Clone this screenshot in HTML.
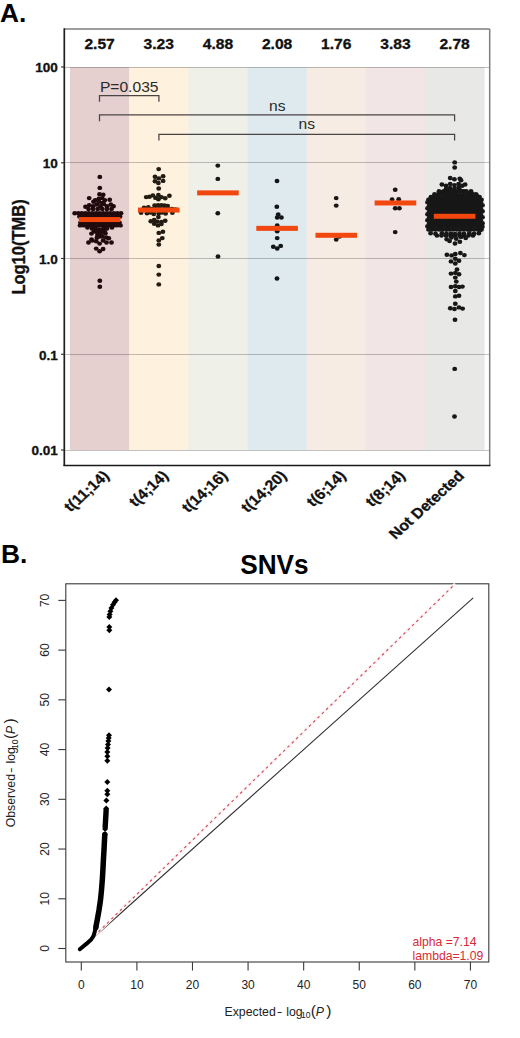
<!DOCTYPE html>
<html><head><meta charset="utf-8"><style>
html,body{margin:0;padding:0;background:#fff;}
body{width:520px;height:1038px;overflow:hidden;font-family:"Liberation Sans",sans-serif;}
svg{display:block;}
</style></head><body>
<svg width="520" height="1038" viewBox="0 0 520 1038">
<rect width="520" height="1038" fill="#fff"/>
<rect x="70.00" y="67.00" width="59.57" height="383.00" fill="#e5d0cf"/>
<rect x="129.17" y="67.00" width="59.57" height="383.00" fill="#fef1de"/>
<rect x="188.34" y="67.00" width="59.57" height="383.00" fill="#eff0e8"/>
<rect x="247.51" y="67.00" width="59.57" height="383.00" fill="#deeaee"/>
<rect x="306.69" y="67.00" width="59.57" height="383.00" fill="#f6ece3"/>
<rect x="365.86" y="67.00" width="59.57" height="383.00" fill="#f2e5e6"/>
<rect x="425.03" y="67.00" width="59.57" height="383.00" fill="#e8e8e7"/>
<line x1="64.3" x2="489.7" y1="67.50" y2="67.50" stroke="rgba(0,0,0,0.24)" stroke-width="1.0"/>
<line x1="64.3" x2="489.7" y1="162.50" y2="162.50" stroke="rgba(0,0,0,0.24)" stroke-width="1.0"/>
<line x1="64.3" x2="489.7" y1="258.50" y2="258.50" stroke="rgba(0,0,0,0.24)" stroke-width="1.0"/>
<line x1="64.3" x2="489.7" y1="354.50" y2="354.50" stroke="rgba(0,0,0,0.24)" stroke-width="1.0"/>
<line x1="64.3" x2="489.7" y1="450.50" y2="450.50" stroke="rgba(0,0,0,0.24)" stroke-width="1.0"/>
<line x1="64.3" x2="489.7" y1="29.0" y2="29.0" stroke="#7e7e7e" stroke-width="1.5"/>
<line x1="489.7" x2="489.7" y1="29.0" y2="465.2" stroke="#7e7e7e" stroke-width="1.5"/>
<line x1="64.3" x2="64.3" y1="28.3" y2="466.0" stroke="#1e1e1e" stroke-width="1.7"/>
<line x1="63.5" x2="490.5" y1="465.5" y2="465.5" stroke="#1a1a1a" stroke-width="1.45"/>
<line x1="61.099999999999994" x2="64.3" y1="67.00" y2="67.00" stroke="#333" stroke-width="1.2"/>
<line x1="61.099999999999994" x2="64.3" y1="162.75" y2="162.75" stroke="#333" stroke-width="1.2"/>
<line x1="61.099999999999994" x2="64.3" y1="258.50" y2="258.50" stroke="#333" stroke-width="1.2"/>
<line x1="61.099999999999994" x2="64.3" y1="354.25" y2="354.25" stroke="#333" stroke-width="1.2"/>
<line x1="61.099999999999994" x2="64.3" y1="450.00" y2="450.00" stroke="#333" stroke-width="1.2"/>
<text transform="translate(57.8,72.30) scale(1.1,1)" text-anchor="end" font-family="Liberation Sans, sans-serif" font-weight="bold" font-size="12.3" fill="#111" stroke="#111" stroke-width="0.3">100</text>
<text transform="translate(57.8,168.05) scale(1.1,1)" text-anchor="end" font-family="Liberation Sans, sans-serif" font-weight="bold" font-size="12.3" fill="#111" stroke="#111" stroke-width="0.3">10</text>
<text transform="translate(57.8,263.80) scale(1.1,1)" text-anchor="end" font-family="Liberation Sans, sans-serif" font-weight="bold" font-size="12.3" fill="#111" stroke="#111" stroke-width="0.3">1.0</text>
<text transform="translate(57.8,359.55) scale(1.1,1)" text-anchor="end" font-family="Liberation Sans, sans-serif" font-weight="bold" font-size="12.3" fill="#111" stroke="#111" stroke-width="0.3">0.1</text>
<text transform="translate(57.8,455.30) scale(1.1,1)" text-anchor="end" font-family="Liberation Sans, sans-serif" font-weight="bold" font-size="12.3" fill="#111" stroke="#111" stroke-width="0.3">0.01</text>
<text transform="translate(25.0,247.0) scale(1.1,1) rotate(-90)" text-anchor="middle" font-family="Liberation Sans, sans-serif" font-weight="bold" font-size="16.5" fill="#111" stroke="#111" stroke-width="0.3">Log10(TMB)</text>
<text transform="translate(99.59,48.8) scale(1.1,1)" text-anchor="middle" font-family="Liberation Sans, sans-serif" font-weight="bold" font-size="14.2" fill="#111" stroke="#111" stroke-width="0.3">2.57</text>
<text transform="translate(158.76,48.8) scale(1.1,1)" text-anchor="middle" font-family="Liberation Sans, sans-serif" font-weight="bold" font-size="14.2" fill="#111" stroke="#111" stroke-width="0.3">3.23</text>
<text transform="translate(217.93,48.8) scale(1.1,1)" text-anchor="middle" font-family="Liberation Sans, sans-serif" font-weight="bold" font-size="14.2" fill="#111" stroke="#111" stroke-width="0.3">4.88</text>
<text transform="translate(277.10,48.8) scale(1.1,1)" text-anchor="middle" font-family="Liberation Sans, sans-serif" font-weight="bold" font-size="14.2" fill="#111" stroke="#111" stroke-width="0.3">2.08</text>
<text transform="translate(336.27,48.8) scale(1.1,1)" text-anchor="middle" font-family="Liberation Sans, sans-serif" font-weight="bold" font-size="14.2" fill="#111" stroke="#111" stroke-width="0.3">1.76</text>
<text transform="translate(395.44,48.8) scale(1.1,1)" text-anchor="middle" font-family="Liberation Sans, sans-serif" font-weight="bold" font-size="14.2" fill="#111" stroke="#111" stroke-width="0.3">3.83</text>
<text transform="translate(454.61,48.8) scale(1.1,1)" text-anchor="middle" font-family="Liberation Sans, sans-serif" font-weight="bold" font-size="14.2" fill="#111" stroke="#111" stroke-width="0.3">2.78</text>
<text transform="translate(110.09,476.7) scale(1.1,1) rotate(-45)" text-anchor="end" font-family="Liberation Sans, sans-serif" font-weight="bold" font-size="14.5" fill="#111" stroke="#111" stroke-width="0.3">t(11;14)</text>
<text transform="translate(169.26,476.7) scale(1.1,1) rotate(-45)" text-anchor="end" font-family="Liberation Sans, sans-serif" font-weight="bold" font-size="14.5" fill="#111" stroke="#111" stroke-width="0.3">t(4;14)</text>
<text transform="translate(228.43,476.7) scale(1.1,1) rotate(-45)" text-anchor="end" font-family="Liberation Sans, sans-serif" font-weight="bold" font-size="14.5" fill="#111" stroke="#111" stroke-width="0.3">t(14;16)</text>
<text transform="translate(287.60,476.7) scale(1.1,1) rotate(-45)" text-anchor="end" font-family="Liberation Sans, sans-serif" font-weight="bold" font-size="14.5" fill="#111" stroke="#111" stroke-width="0.3">t(14;20)</text>
<text transform="translate(346.77,476.7) scale(1.1,1) rotate(-45)" text-anchor="end" font-family="Liberation Sans, sans-serif" font-weight="bold" font-size="14.5" fill="#111" stroke="#111" stroke-width="0.3">t(6;14)</text>
<text transform="translate(405.94,476.7) scale(1.1,1) rotate(-45)" text-anchor="end" font-family="Liberation Sans, sans-serif" font-weight="bold" font-size="14.5" fill="#111" stroke="#111" stroke-width="0.3">t(8;14)</text>
<text transform="translate(465.11,476.7) scale(1.1,1) rotate(-45)" text-anchor="end" font-family="Liberation Sans, sans-serif" font-weight="bold" font-size="14.5" fill="#111" stroke="#111" stroke-width="0.3">Not Detected</text>
<path d="M99.5,101.8 L99.5,95.5 L158.9,95.5 L158.9,101.8" fill="none" stroke="#4a4444" stroke-width="1.25"/>
<path d="M99.5,121.3 L99.5,114.8 L454.6,114.8 L454.6,121.3" fill="none" stroke="#4a4444" stroke-width="1.25"/>
<path d="M158.9,140.4 L158.9,134.4 L454.6,134.4 L454.6,140.4" fill="none" stroke="#4a4444" stroke-width="1.25"/>
<text transform="translate(129.2,91.6) scale(1.1,1)" text-anchor="middle" font-family="Liberation Sans, sans-serif" font-size="14.2" fill="#2a2a2a">P=0.035</text>
<text transform="translate(277.2,110.6) scale(1.1,1)" text-anchor="middle" font-family="Liberation Sans, sans-serif" font-size="14.2" fill="#2a2a2a">ns</text>
<text transform="translate(306.7,129.4) scale(1.1,1)" text-anchor="middle" font-family="Liberation Sans, sans-serif" font-size="14.2" fill="#2a2a2a">ns</text>
<ellipse cx="99.8" cy="176.9" rx="2.42" ry="2.2" fill="#210a0e"/>
<ellipse cx="99.8" cy="187.9" rx="2.42" ry="2.2" fill="#210a0e"/>
<ellipse cx="99.5" cy="194.3" rx="2.42" ry="2.2" fill="#210a0e"/>
<ellipse cx="103.2" cy="194.8" rx="2.42" ry="2.2" fill="#210a0e"/>
<ellipse cx="89.2" cy="198.1" rx="2.42" ry="2.2" fill="#210a0e"/>
<ellipse cx="95.2" cy="200.2" rx="2.42" ry="2.2" fill="#210a0e"/>
<ellipse cx="98.9" cy="198.6" rx="2.42" ry="2.2" fill="#210a0e"/>
<ellipse cx="102.2" cy="198.1" rx="2.42" ry="2.2" fill="#210a0e"/>
<ellipse cx="104.8" cy="200.2" rx="2.42" ry="2.2" fill="#210a0e"/>
<ellipse cx="109.7" cy="199.7" rx="2.42" ry="2.2" fill="#210a0e"/>
<ellipse cx="93.5" cy="201.8" rx="2.42" ry="2.2" fill="#210a0e"/>
<ellipse cx="98.9" cy="201.8" rx="2.42" ry="2.2" fill="#210a0e"/>
<ellipse cx="102.2" cy="202.9" rx="2.42" ry="2.2" fill="#210a0e"/>
<ellipse cx="85.5" cy="206.7" rx="2.42" ry="2.2" fill="#210a0e"/>
<ellipse cx="89.2" cy="205.1" rx="2.42" ry="2.2" fill="#210a0e"/>
<ellipse cx="93.0" cy="206.2" rx="2.42" ry="2.2" fill="#210a0e"/>
<ellipse cx="96.8" cy="204.5" rx="2.42" ry="2.2" fill="#210a0e"/>
<ellipse cx="100.5" cy="206.2" rx="2.42" ry="2.2" fill="#210a0e"/>
<ellipse cx="103.8" cy="204.0" rx="2.42" ry="2.2" fill="#210a0e"/>
<ellipse cx="107.0" cy="206.2" rx="2.42" ry="2.2" fill="#210a0e"/>
<ellipse cx="110.8" cy="204.5" rx="2.42" ry="2.2" fill="#210a0e"/>
<ellipse cx="113.5" cy="206.2" rx="2.42" ry="2.2" fill="#210a0e"/>
<ellipse cx="88.5" cy="209.0" rx="2.42" ry="2.2" fill="#210a0e"/>
<ellipse cx="93.1" cy="209.0" rx="2.42" ry="2.2" fill="#210a0e"/>
<ellipse cx="97.7" cy="209.0" rx="2.42" ry="2.2" fill="#210a0e"/>
<ellipse cx="102.3" cy="209.0" rx="2.42" ry="2.2" fill="#210a0e"/>
<ellipse cx="106.9" cy="209.0" rx="2.42" ry="2.2" fill="#210a0e"/>
<ellipse cx="111.5" cy="209.0" rx="2.42" ry="2.2" fill="#210a0e"/>
<ellipse cx="74.7" cy="213.2" rx="2.42" ry="2.2" fill="#210a0e"/>
<ellipse cx="78.3" cy="213.2" rx="2.42" ry="2.2" fill="#210a0e"/>
<ellipse cx="81.8" cy="213.2" rx="2.42" ry="2.2" fill="#210a0e"/>
<ellipse cx="85.4" cy="213.2" rx="2.42" ry="2.2" fill="#210a0e"/>
<ellipse cx="88.9" cy="213.2" rx="2.42" ry="2.2" fill="#210a0e"/>
<ellipse cx="92.5" cy="213.2" rx="2.42" ry="2.2" fill="#210a0e"/>
<ellipse cx="96.1" cy="213.2" rx="2.42" ry="2.2" fill="#210a0e"/>
<ellipse cx="99.6" cy="213.2" rx="2.42" ry="2.2" fill="#210a0e"/>
<ellipse cx="103.2" cy="213.2" rx="2.42" ry="2.2" fill="#210a0e"/>
<ellipse cx="106.8" cy="213.2" rx="2.42" ry="2.2" fill="#210a0e"/>
<ellipse cx="110.3" cy="213.2" rx="2.42" ry="2.2" fill="#210a0e"/>
<ellipse cx="113.9" cy="213.2" rx="2.42" ry="2.2" fill="#210a0e"/>
<ellipse cx="117.4" cy="213.2" rx="2.42" ry="2.2" fill="#210a0e"/>
<ellipse cx="121.0" cy="213.2" rx="2.42" ry="2.2" fill="#210a0e"/>
<ellipse cx="79.5" cy="216.6" rx="2.42" ry="2.2" fill="#210a0e"/>
<ellipse cx="83.2" cy="216.6" rx="2.42" ry="2.2" fill="#210a0e"/>
<ellipse cx="86.9" cy="216.6" rx="2.42" ry="2.2" fill="#210a0e"/>
<ellipse cx="90.5" cy="216.6" rx="2.42" ry="2.2" fill="#210a0e"/>
<ellipse cx="94.2" cy="216.6" rx="2.42" ry="2.2" fill="#210a0e"/>
<ellipse cx="97.9" cy="216.6" rx="2.42" ry="2.2" fill="#210a0e"/>
<ellipse cx="101.6" cy="216.6" rx="2.42" ry="2.2" fill="#210a0e"/>
<ellipse cx="105.3" cy="216.6" rx="2.42" ry="2.2" fill="#210a0e"/>
<ellipse cx="109.0" cy="216.6" rx="2.42" ry="2.2" fill="#210a0e"/>
<ellipse cx="112.6" cy="216.6" rx="2.42" ry="2.2" fill="#210a0e"/>
<ellipse cx="116.3" cy="216.6" rx="2.42" ry="2.2" fill="#210a0e"/>
<ellipse cx="120.0" cy="216.6" rx="2.42" ry="2.2" fill="#210a0e"/>
<ellipse cx="80.5" cy="222.6" rx="2.42" ry="2.2" fill="#210a0e"/>
<ellipse cx="84.0" cy="222.6" rx="2.42" ry="2.2" fill="#210a0e"/>
<ellipse cx="87.6" cy="222.6" rx="2.42" ry="2.2" fill="#210a0e"/>
<ellipse cx="91.1" cy="222.6" rx="2.42" ry="2.2" fill="#210a0e"/>
<ellipse cx="94.7" cy="222.6" rx="2.42" ry="2.2" fill="#210a0e"/>
<ellipse cx="98.2" cy="222.6" rx="2.42" ry="2.2" fill="#210a0e"/>
<ellipse cx="101.8" cy="222.6" rx="2.42" ry="2.2" fill="#210a0e"/>
<ellipse cx="105.3" cy="222.6" rx="2.42" ry="2.2" fill="#210a0e"/>
<ellipse cx="108.9" cy="222.6" rx="2.42" ry="2.2" fill="#210a0e"/>
<ellipse cx="112.4" cy="222.6" rx="2.42" ry="2.2" fill="#210a0e"/>
<ellipse cx="116.0" cy="222.6" rx="2.42" ry="2.2" fill="#210a0e"/>
<ellipse cx="119.5" cy="222.6" rx="2.42" ry="2.2" fill="#210a0e"/>
<ellipse cx="80.0" cy="225.4" rx="2.42" ry="2.2" fill="#210a0e"/>
<ellipse cx="83.7" cy="225.4" rx="2.42" ry="2.2" fill="#210a0e"/>
<ellipse cx="87.4" cy="225.4" rx="2.42" ry="2.2" fill="#210a0e"/>
<ellipse cx="91.0" cy="225.4" rx="2.42" ry="2.2" fill="#210a0e"/>
<ellipse cx="94.7" cy="225.4" rx="2.42" ry="2.2" fill="#210a0e"/>
<ellipse cx="98.4" cy="225.4" rx="2.42" ry="2.2" fill="#210a0e"/>
<ellipse cx="102.1" cy="225.4" rx="2.42" ry="2.2" fill="#210a0e"/>
<ellipse cx="105.8" cy="225.4" rx="2.42" ry="2.2" fill="#210a0e"/>
<ellipse cx="109.5" cy="225.4" rx="2.42" ry="2.2" fill="#210a0e"/>
<ellipse cx="113.1" cy="225.4" rx="2.42" ry="2.2" fill="#210a0e"/>
<ellipse cx="116.8" cy="225.4" rx="2.42" ry="2.2" fill="#210a0e"/>
<ellipse cx="120.5" cy="225.4" rx="2.42" ry="2.2" fill="#210a0e"/>
<ellipse cx="87.5" cy="227.6" rx="2.42" ry="2.2" fill="#210a0e"/>
<ellipse cx="112.0" cy="227.6" rx="2.42" ry="2.2" fill="#210a0e"/>
<ellipse cx="92.0" cy="228.6" rx="2.42" ry="2.2" fill="#210a0e"/>
<ellipse cx="95.6" cy="228.2" rx="2.42" ry="2.2" fill="#210a0e"/>
<ellipse cx="103.4" cy="228.2" rx="2.42" ry="2.2" fill="#210a0e"/>
<ellipse cx="107.0" cy="228.6" rx="2.42" ry="2.2" fill="#210a0e"/>
<ellipse cx="94.0" cy="231.2" rx="2.42" ry="2.2" fill="#210a0e"/>
<ellipse cx="99.2" cy="232.4" rx="2.42" ry="2.2" fill="#210a0e"/>
<ellipse cx="104.5" cy="231.6" rx="2.42" ry="2.2" fill="#210a0e"/>
<ellipse cx="101.0" cy="235.0" rx="2.42" ry="2.2" fill="#210a0e"/>
<ellipse cx="97.5" cy="235.0" rx="2.42" ry="2.2" fill="#210a0e"/>
<ellipse cx="99.2" cy="229.4" rx="2.42" ry="2.2" fill="#210a0e"/>
<ellipse cx="96.2" cy="231.7" rx="2.42" ry="2.2" fill="#210a0e"/>
<ellipse cx="102.3" cy="231.3" rx="2.42" ry="2.2" fill="#210a0e"/>
<ellipse cx="91.5" cy="233.6" rx="2.42" ry="2.2" fill="#210a0e"/>
<ellipse cx="105.4" cy="233.2" rx="2.42" ry="2.2" fill="#210a0e"/>
<ellipse cx="99.5" cy="233.5" rx="2.42" ry="2.2" fill="#210a0e"/>
<ellipse cx="99.5" cy="236.5" rx="2.42" ry="2.2" fill="#210a0e"/>
<ellipse cx="96.9" cy="237.8" rx="2.42" ry="2.2" fill="#210a0e"/>
<ellipse cx="102.5" cy="236.5" rx="2.42" ry="2.2" fill="#210a0e"/>
<ellipse cx="106.2" cy="237.5" rx="2.42" ry="2.2" fill="#210a0e"/>
<ellipse cx="108.8" cy="238.2" rx="2.42" ry="2.2" fill="#210a0e"/>
<ellipse cx="91.5" cy="239.4" rx="2.42" ry="2.2" fill="#210a0e"/>
<ellipse cx="88.5" cy="242.5" rx="2.42" ry="2.2" fill="#210a0e"/>
<ellipse cx="92.3" cy="240.5" rx="2.42" ry="2.2" fill="#210a0e"/>
<ellipse cx="96.2" cy="241.3" rx="2.42" ry="2.2" fill="#210a0e"/>
<ellipse cx="99.6" cy="243.6" rx="2.42" ry="2.2" fill="#210a0e"/>
<ellipse cx="103.1" cy="240.5" rx="2.42" ry="2.2" fill="#210a0e"/>
<ellipse cx="106.5" cy="242.5" rx="2.42" ry="2.2" fill="#210a0e"/>
<ellipse cx="111.5" cy="242.5" rx="2.42" ry="2.2" fill="#210a0e"/>
<ellipse cx="96.2" cy="248.6" rx="2.42" ry="2.2" fill="#210a0e"/>
<ellipse cx="103.1" cy="249.0" rx="2.42" ry="2.2" fill="#210a0e"/>
<ellipse cx="99.6" cy="251.3" rx="2.42" ry="2.2" fill="#210a0e"/>
<ellipse cx="99.8" cy="280.8" rx="2.42" ry="2.2" fill="#210a0e"/>
<ellipse cx="99.8" cy="286.8" rx="2.42" ry="2.2" fill="#210a0e"/>
<ellipse cx="158.7" cy="169.1" rx="2.42" ry="2.2" fill="#231c12"/>
<ellipse cx="155.0" cy="176.7" rx="2.42" ry="2.2" fill="#231c12"/>
<ellipse cx="163.1" cy="176.3" rx="2.42" ry="2.2" fill="#231c12"/>
<ellipse cx="158.8" cy="178.4" rx="2.42" ry="2.2" fill="#231c12"/>
<ellipse cx="155.0" cy="181.3" rx="2.42" ry="2.2" fill="#231c12"/>
<ellipse cx="163.1" cy="180.9" rx="2.42" ry="2.2" fill="#231c12"/>
<ellipse cx="158.4" cy="183.0" rx="2.42" ry="2.2" fill="#231c12"/>
<ellipse cx="158.7" cy="188.5" rx="2.42" ry="2.2" fill="#231c12"/>
<ellipse cx="146.2" cy="197.1" rx="2.42" ry="2.2" fill="#231c12"/>
<ellipse cx="149.5" cy="196.7" rx="2.42" ry="2.2" fill="#231c12"/>
<ellipse cx="152.9" cy="195.4" rx="2.42" ry="2.2" fill="#231c12"/>
<ellipse cx="155.5" cy="197.9" rx="2.42" ry="2.2" fill="#231c12"/>
<ellipse cx="158.4" cy="195.0" rx="2.42" ry="2.2" fill="#231c12"/>
<ellipse cx="158.4" cy="199.2" rx="2.42" ry="2.2" fill="#231c12"/>
<ellipse cx="161.4" cy="197.1" rx="2.42" ry="2.2" fill="#231c12"/>
<ellipse cx="165.2" cy="198.3" rx="2.42" ry="2.2" fill="#231c12"/>
<ellipse cx="169.4" cy="195.8" rx="2.42" ry="2.2" fill="#231c12"/>
<ellipse cx="154.6" cy="205.5" rx="2.42" ry="2.2" fill="#231c12"/>
<ellipse cx="158.0" cy="205.2" rx="2.42" ry="2.2" fill="#231c12"/>
<ellipse cx="161.4" cy="205.1" rx="2.42" ry="2.2" fill="#231c12"/>
<ellipse cx="164.6" cy="205.5" rx="2.42" ry="2.2" fill="#231c12"/>
<ellipse cx="167.7" cy="206.0" rx="2.42" ry="2.2" fill="#231c12"/>
<ellipse cx="144.0" cy="207.7" rx="2.42" ry="2.2" fill="#231c12"/>
<ellipse cx="148.3" cy="207.2" rx="2.42" ry="2.2" fill="#231c12"/>
<ellipse cx="152.0" cy="209.0" rx="2.42" ry="2.2" fill="#231c12"/>
<ellipse cx="156.0" cy="209.0" rx="2.42" ry="2.2" fill="#231c12"/>
<ellipse cx="160.0" cy="209.0" rx="2.42" ry="2.2" fill="#231c12"/>
<ellipse cx="164.0" cy="209.0" rx="2.42" ry="2.2" fill="#231c12"/>
<ellipse cx="168.0" cy="209.0" rx="2.42" ry="2.2" fill="#231c12"/>
<ellipse cx="172.0" cy="209.0" rx="2.42" ry="2.2" fill="#231c12"/>
<ellipse cx="175.5" cy="209.5" rx="2.42" ry="2.2" fill="#231c12"/>
<ellipse cx="141.1" cy="212.7" rx="2.42" ry="2.2" fill="#231c12"/>
<ellipse cx="147.0" cy="213.2" rx="2.42" ry="2.2" fill="#231c12"/>
<ellipse cx="153.8" cy="214.0" rx="2.42" ry="2.2" fill="#231c12"/>
<ellipse cx="158.8" cy="213.2" rx="2.42" ry="2.2" fill="#231c12"/>
<ellipse cx="165.6" cy="213.6" rx="2.42" ry="2.2" fill="#231c12"/>
<ellipse cx="172.4" cy="212.7" rx="2.42" ry="2.2" fill="#231c12"/>
<ellipse cx="150.5" cy="212.5" rx="2.42" ry="2.2" fill="#231c12"/>
<ellipse cx="162.0" cy="212.5" rx="2.42" ry="2.2" fill="#231c12"/>
<ellipse cx="158.4" cy="217.0" rx="2.42" ry="2.2" fill="#231c12"/>
<ellipse cx="150.8" cy="221.2" rx="2.42" ry="2.2" fill="#231c12"/>
<ellipse cx="154.2" cy="219.9" rx="2.42" ry="2.2" fill="#231c12"/>
<ellipse cx="157.2" cy="221.6" rx="2.42" ry="2.2" fill="#231c12"/>
<ellipse cx="161.4" cy="222.0" rx="2.42" ry="2.2" fill="#231c12"/>
<ellipse cx="165.2" cy="220.8" rx="2.42" ry="2.2" fill="#231c12"/>
<ellipse cx="154.2" cy="223.7" rx="2.42" ry="2.2" fill="#231c12"/>
<ellipse cx="158.0" cy="225.4" rx="2.42" ry="2.2" fill="#231c12"/>
<ellipse cx="161.4" cy="224.1" rx="2.42" ry="2.2" fill="#231c12"/>
<ellipse cx="158.8" cy="232.9" rx="2.42" ry="2.2" fill="#231c12"/>
<ellipse cx="162.9" cy="231.7" rx="2.42" ry="2.2" fill="#231c12"/>
<ellipse cx="158.8" cy="240.4" rx="2.42" ry="2.2" fill="#231c12"/>
<ellipse cx="162.3" cy="238.1" rx="2.42" ry="2.2" fill="#231c12"/>
<ellipse cx="158.8" cy="244.6" rx="2.42" ry="2.2" fill="#231c12"/>
<ellipse cx="158.8" cy="266.0" rx="2.42" ry="2.2" fill="#231c12"/>
<ellipse cx="158.8" cy="274.6" rx="2.42" ry="2.2" fill="#231c12"/>
<ellipse cx="158.8" cy="284.4" rx="2.42" ry="2.2" fill="#231c12"/>
<ellipse cx="217.8" cy="165.6" rx="2.42" ry="2.2" fill="#171717"/>
<ellipse cx="217.8" cy="178.9" rx="2.42" ry="2.2" fill="#171717"/>
<ellipse cx="217.8" cy="213.3" rx="2.42" ry="2.2" fill="#171717"/>
<ellipse cx="218.0" cy="256.5" rx="2.42" ry="2.2" fill="#171717"/>
<ellipse cx="277.0" cy="181.0" rx="2.42" ry="2.2" fill="#121516"/>
<ellipse cx="276.8" cy="206.7" rx="2.42" ry="2.2" fill="#121516"/>
<ellipse cx="278.2" cy="214.4" rx="2.42" ry="2.2" fill="#121516"/>
<ellipse cx="277.2" cy="217.5" rx="2.42" ry="2.2" fill="#121516"/>
<ellipse cx="281.4" cy="217.5" rx="2.42" ry="2.2" fill="#121516"/>
<ellipse cx="277.2" cy="225.4" rx="2.42" ry="2.2" fill="#121516"/>
<ellipse cx="277.2" cy="231.2" rx="2.42" ry="2.2" fill="#121516"/>
<ellipse cx="277.2" cy="238.1" rx="2.42" ry="2.2" fill="#121516"/>
<ellipse cx="273.3" cy="246.7" rx="2.42" ry="2.2" fill="#121516"/>
<ellipse cx="277.2" cy="248.5" rx="2.42" ry="2.2" fill="#121516"/>
<ellipse cx="280.7" cy="245.9" rx="2.42" ry="2.2" fill="#121516"/>
<ellipse cx="277.0" cy="278.5" rx="2.42" ry="2.2" fill="#121516"/>
<ellipse cx="336.2" cy="198.1" rx="2.42" ry="2.2" fill="#1a1616"/>
<ellipse cx="336.2" cy="205.6" rx="2.42" ry="2.2" fill="#1a1616"/>
<ellipse cx="339.5" cy="236.5" rx="2.42" ry="2.2" fill="#1a1616"/>
<ellipse cx="336.2" cy="239.6" rx="2.42" ry="2.2" fill="#1a1616"/>
<ellipse cx="395.2" cy="189.8" rx="2.42" ry="2.2" fill="#1a1416"/>
<ellipse cx="392.1" cy="199.5" rx="2.42" ry="2.2" fill="#1a1416"/>
<ellipse cx="398.7" cy="199.2" rx="2.42" ry="2.2" fill="#1a1416"/>
<ellipse cx="395.2" cy="208.2" rx="2.42" ry="2.2" fill="#1a1416"/>
<ellipse cx="399.4" cy="208.2" rx="2.42" ry="2.2" fill="#1a1416"/>
<ellipse cx="395.2" cy="232.1" rx="2.42" ry="2.2" fill="#1a1416"/>
<ellipse cx="454.7" cy="162.4" rx="2.42" ry="2.2" fill="#171717"/>
<ellipse cx="454.7" cy="167.5" rx="2.42" ry="2.2" fill="#171717"/>
<ellipse cx="450.2" cy="178.0" rx="2.42" ry="2.2" fill="#171717"/>
<ellipse cx="454.4" cy="179.2" rx="2.42" ry="2.2" fill="#171717"/>
<ellipse cx="459.8" cy="178.6" rx="2.42" ry="2.2" fill="#171717"/>
<ellipse cx="461.0" cy="180.3" rx="2.42" ry="2.2" fill="#171717"/>
<ellipse cx="441.9" cy="184.5" rx="2.42" ry="2.2" fill="#171717"/>
<ellipse cx="446.0" cy="185.7" rx="2.42" ry="2.2" fill="#171717"/>
<ellipse cx="450.2" cy="183.9" rx="2.42" ry="2.2" fill="#171717"/>
<ellipse cx="454.4" cy="185.1" rx="2.42" ry="2.2" fill="#171717"/>
<ellipse cx="458.6" cy="183.9" rx="2.42" ry="2.2" fill="#171717"/>
<ellipse cx="462.2" cy="185.7" rx="2.42" ry="2.2" fill="#171717"/>
<ellipse cx="465.1" cy="184.5" rx="2.42" ry="2.2" fill="#171717"/>
<ellipse cx="454.4" cy="188.7" rx="2.42" ry="2.2" fill="#171717"/>
<ellipse cx="458.6" cy="187.5" rx="2.42" ry="2.2" fill="#171717"/>
<ellipse cx="446.0" cy="189.0" rx="2.42" ry="2.2" fill="#171717"/>
<ellipse cx="450.0" cy="188.0" rx="2.42" ry="2.2" fill="#171717"/>
<ellipse cx="438.3" cy="194.1" rx="2.42" ry="2.2" fill="#171717"/>
<ellipse cx="441.9" cy="192.3" rx="2.42" ry="2.2" fill="#171717"/>
<ellipse cx="446.0" cy="193.0" rx="2.42" ry="2.2" fill="#171717"/>
<ellipse cx="450.2" cy="191.1" rx="2.42" ry="2.2" fill="#171717"/>
<ellipse cx="454.5" cy="192.5" rx="2.42" ry="2.2" fill="#171717"/>
<ellipse cx="459.8" cy="189.9" rx="2.42" ry="2.2" fill="#171717"/>
<ellipse cx="464.0" cy="191.1" rx="2.42" ry="2.2" fill="#171717"/>
<ellipse cx="468.1" cy="192.9" rx="2.42" ry="2.2" fill="#171717"/>
<ellipse cx="472.0" cy="194.0" rx="2.42" ry="2.2" fill="#171717"/>
<ellipse cx="474.1" cy="194.7" rx="2.42" ry="2.2" fill="#171717"/>
<ellipse cx="476.5" cy="195.3" rx="2.42" ry="2.2" fill="#171717"/>
<ellipse cx="434.5" cy="196.5" rx="2.42" ry="2.2" fill="#171717"/>
<ellipse cx="431.0" cy="197.5" rx="2.42" ry="2.2" fill="#171717"/>
<ellipse cx="439.0" cy="191.3" rx="2.42" ry="2.2" fill="#171717"/>
<ellipse cx="443.6" cy="191.3" rx="2.42" ry="2.2" fill="#171717"/>
<ellipse cx="448.1" cy="191.3" rx="2.42" ry="2.2" fill="#171717"/>
<ellipse cx="452.7" cy="191.3" rx="2.42" ry="2.2" fill="#171717"/>
<ellipse cx="457.3" cy="191.3" rx="2.42" ry="2.2" fill="#171717"/>
<ellipse cx="461.9" cy="191.3" rx="2.42" ry="2.2" fill="#171717"/>
<ellipse cx="466.4" cy="191.3" rx="2.42" ry="2.2" fill="#171717"/>
<ellipse cx="471.0" cy="191.3" rx="2.42" ry="2.2" fill="#171717"/>
<ellipse cx="434.5" cy="194.2" rx="2.42" ry="2.2" fill="#171717"/>
<ellipse cx="438.6" cy="194.2" rx="2.42" ry="2.2" fill="#171717"/>
<ellipse cx="442.8" cy="194.2" rx="2.42" ry="2.2" fill="#171717"/>
<ellipse cx="446.9" cy="194.2" rx="2.42" ry="2.2" fill="#171717"/>
<ellipse cx="451.1" cy="194.2" rx="2.42" ry="2.2" fill="#171717"/>
<ellipse cx="455.2" cy="194.2" rx="2.42" ry="2.2" fill="#171717"/>
<ellipse cx="459.4" cy="194.2" rx="2.42" ry="2.2" fill="#171717"/>
<ellipse cx="463.6" cy="194.2" rx="2.42" ry="2.2" fill="#171717"/>
<ellipse cx="467.7" cy="194.2" rx="2.42" ry="2.2" fill="#171717"/>
<ellipse cx="471.9" cy="194.2" rx="2.42" ry="2.2" fill="#171717"/>
<ellipse cx="476.0" cy="194.2" rx="2.42" ry="2.2" fill="#171717"/>
<ellipse cx="431.0" cy="197.0" rx="2.42" ry="2.2" fill="#171717"/>
<ellipse cx="434.7" cy="197.0" rx="2.42" ry="2.2" fill="#171717"/>
<ellipse cx="438.5" cy="197.0" rx="2.42" ry="2.2" fill="#171717"/>
<ellipse cx="442.2" cy="197.0" rx="2.42" ry="2.2" fill="#171717"/>
<ellipse cx="445.9" cy="197.0" rx="2.42" ry="2.2" fill="#171717"/>
<ellipse cx="449.7" cy="197.0" rx="2.42" ry="2.2" fill="#171717"/>
<ellipse cx="453.4" cy="197.0" rx="2.42" ry="2.2" fill="#171717"/>
<ellipse cx="457.1" cy="197.0" rx="2.42" ry="2.2" fill="#171717"/>
<ellipse cx="460.8" cy="197.0" rx="2.42" ry="2.2" fill="#171717"/>
<ellipse cx="464.6" cy="197.0" rx="2.42" ry="2.2" fill="#171717"/>
<ellipse cx="468.3" cy="197.0" rx="2.42" ry="2.2" fill="#171717"/>
<ellipse cx="472.0" cy="197.0" rx="2.42" ry="2.2" fill="#171717"/>
<ellipse cx="475.8" cy="197.0" rx="2.42" ry="2.2" fill="#171717"/>
<ellipse cx="479.5" cy="197.0" rx="2.42" ry="2.2" fill="#171717"/>
<ellipse cx="428.5" cy="199.8" rx="2.42" ry="2.2" fill="#171717"/>
<ellipse cx="432.0" cy="199.8" rx="2.42" ry="2.2" fill="#171717"/>
<ellipse cx="435.6" cy="199.8" rx="2.42" ry="2.2" fill="#171717"/>
<ellipse cx="439.1" cy="199.8" rx="2.42" ry="2.2" fill="#171717"/>
<ellipse cx="442.6" cy="199.8" rx="2.42" ry="2.2" fill="#171717"/>
<ellipse cx="446.2" cy="199.8" rx="2.42" ry="2.2" fill="#171717"/>
<ellipse cx="449.7" cy="199.8" rx="2.42" ry="2.2" fill="#171717"/>
<ellipse cx="453.2" cy="199.8" rx="2.42" ry="2.2" fill="#171717"/>
<ellipse cx="456.8" cy="199.8" rx="2.42" ry="2.2" fill="#171717"/>
<ellipse cx="460.3" cy="199.8" rx="2.42" ry="2.2" fill="#171717"/>
<ellipse cx="463.8" cy="199.8" rx="2.42" ry="2.2" fill="#171717"/>
<ellipse cx="467.4" cy="199.8" rx="2.42" ry="2.2" fill="#171717"/>
<ellipse cx="470.9" cy="199.8" rx="2.42" ry="2.2" fill="#171717"/>
<ellipse cx="474.4" cy="199.8" rx="2.42" ry="2.2" fill="#171717"/>
<ellipse cx="478.0" cy="199.8" rx="2.42" ry="2.2" fill="#171717"/>
<ellipse cx="481.5" cy="199.8" rx="2.42" ry="2.2" fill="#171717"/>
<ellipse cx="427.5" cy="202.2" rx="2.42" ry="2.2" fill="#171717"/>
<ellipse cx="431.0" cy="202.2" rx="2.42" ry="2.2" fill="#171717"/>
<ellipse cx="434.6" cy="202.2" rx="2.42" ry="2.2" fill="#171717"/>
<ellipse cx="438.1" cy="202.2" rx="2.42" ry="2.2" fill="#171717"/>
<ellipse cx="441.7" cy="202.2" rx="2.42" ry="2.2" fill="#171717"/>
<ellipse cx="445.2" cy="202.2" rx="2.42" ry="2.2" fill="#171717"/>
<ellipse cx="448.8" cy="202.2" rx="2.42" ry="2.2" fill="#171717"/>
<ellipse cx="452.3" cy="202.2" rx="2.42" ry="2.2" fill="#171717"/>
<ellipse cx="455.9" cy="202.2" rx="2.42" ry="2.2" fill="#171717"/>
<ellipse cx="459.4" cy="202.2" rx="2.42" ry="2.2" fill="#171717"/>
<ellipse cx="463.0" cy="202.2" rx="2.42" ry="2.2" fill="#171717"/>
<ellipse cx="466.5" cy="202.2" rx="2.42" ry="2.2" fill="#171717"/>
<ellipse cx="470.1" cy="202.2" rx="2.42" ry="2.2" fill="#171717"/>
<ellipse cx="473.6" cy="202.2" rx="2.42" ry="2.2" fill="#171717"/>
<ellipse cx="477.2" cy="202.2" rx="2.42" ry="2.2" fill="#171717"/>
<ellipse cx="480.7" cy="202.2" rx="2.42" ry="2.2" fill="#171717"/>
<ellipse cx="429.3" cy="205.2" rx="2.42" ry="2.2" fill="#171717"/>
<ellipse cx="432.8" cy="205.2" rx="2.42" ry="2.2" fill="#171717"/>
<ellipse cx="436.4" cy="205.2" rx="2.42" ry="2.2" fill="#171717"/>
<ellipse cx="439.9" cy="205.2" rx="2.42" ry="2.2" fill="#171717"/>
<ellipse cx="443.5" cy="205.2" rx="2.42" ry="2.2" fill="#171717"/>
<ellipse cx="447.0" cy="205.2" rx="2.42" ry="2.2" fill="#171717"/>
<ellipse cx="450.6" cy="205.2" rx="2.42" ry="2.2" fill="#171717"/>
<ellipse cx="454.1" cy="205.2" rx="2.42" ry="2.2" fill="#171717"/>
<ellipse cx="457.7" cy="205.2" rx="2.42" ry="2.2" fill="#171717"/>
<ellipse cx="461.2" cy="205.2" rx="2.42" ry="2.2" fill="#171717"/>
<ellipse cx="464.8" cy="205.2" rx="2.42" ry="2.2" fill="#171717"/>
<ellipse cx="468.3" cy="205.2" rx="2.42" ry="2.2" fill="#171717"/>
<ellipse cx="471.9" cy="205.2" rx="2.42" ry="2.2" fill="#171717"/>
<ellipse cx="475.4" cy="205.2" rx="2.42" ry="2.2" fill="#171717"/>
<ellipse cx="479.0" cy="205.2" rx="2.42" ry="2.2" fill="#171717"/>
<ellipse cx="482.5" cy="205.2" rx="2.42" ry="2.2" fill="#171717"/>
<ellipse cx="427.5" cy="208.2" rx="2.42" ry="2.2" fill="#171717"/>
<ellipse cx="431.0" cy="208.2" rx="2.42" ry="2.2" fill="#171717"/>
<ellipse cx="434.6" cy="208.2" rx="2.42" ry="2.2" fill="#171717"/>
<ellipse cx="438.1" cy="208.2" rx="2.42" ry="2.2" fill="#171717"/>
<ellipse cx="441.7" cy="208.2" rx="2.42" ry="2.2" fill="#171717"/>
<ellipse cx="445.2" cy="208.2" rx="2.42" ry="2.2" fill="#171717"/>
<ellipse cx="448.8" cy="208.2" rx="2.42" ry="2.2" fill="#171717"/>
<ellipse cx="452.3" cy="208.2" rx="2.42" ry="2.2" fill="#171717"/>
<ellipse cx="455.9" cy="208.2" rx="2.42" ry="2.2" fill="#171717"/>
<ellipse cx="459.4" cy="208.2" rx="2.42" ry="2.2" fill="#171717"/>
<ellipse cx="463.0" cy="208.2" rx="2.42" ry="2.2" fill="#171717"/>
<ellipse cx="466.5" cy="208.2" rx="2.42" ry="2.2" fill="#171717"/>
<ellipse cx="470.1" cy="208.2" rx="2.42" ry="2.2" fill="#171717"/>
<ellipse cx="473.6" cy="208.2" rx="2.42" ry="2.2" fill="#171717"/>
<ellipse cx="477.2" cy="208.2" rx="2.42" ry="2.2" fill="#171717"/>
<ellipse cx="480.7" cy="208.2" rx="2.42" ry="2.2" fill="#171717"/>
<ellipse cx="429.3" cy="211.2" rx="2.42" ry="2.2" fill="#171717"/>
<ellipse cx="432.8" cy="211.2" rx="2.42" ry="2.2" fill="#171717"/>
<ellipse cx="436.4" cy="211.2" rx="2.42" ry="2.2" fill="#171717"/>
<ellipse cx="439.9" cy="211.2" rx="2.42" ry="2.2" fill="#171717"/>
<ellipse cx="443.5" cy="211.2" rx="2.42" ry="2.2" fill="#171717"/>
<ellipse cx="447.0" cy="211.2" rx="2.42" ry="2.2" fill="#171717"/>
<ellipse cx="450.6" cy="211.2" rx="2.42" ry="2.2" fill="#171717"/>
<ellipse cx="454.1" cy="211.2" rx="2.42" ry="2.2" fill="#171717"/>
<ellipse cx="457.7" cy="211.2" rx="2.42" ry="2.2" fill="#171717"/>
<ellipse cx="461.2" cy="211.2" rx="2.42" ry="2.2" fill="#171717"/>
<ellipse cx="464.8" cy="211.2" rx="2.42" ry="2.2" fill="#171717"/>
<ellipse cx="468.3" cy="211.2" rx="2.42" ry="2.2" fill="#171717"/>
<ellipse cx="471.9" cy="211.2" rx="2.42" ry="2.2" fill="#171717"/>
<ellipse cx="475.4" cy="211.2" rx="2.42" ry="2.2" fill="#171717"/>
<ellipse cx="479.0" cy="211.2" rx="2.42" ry="2.2" fill="#171717"/>
<ellipse cx="482.5" cy="211.2" rx="2.42" ry="2.2" fill="#171717"/>
<ellipse cx="427.5" cy="214.2" rx="2.42" ry="2.2" fill="#171717"/>
<ellipse cx="431.0" cy="214.2" rx="2.42" ry="2.2" fill="#171717"/>
<ellipse cx="434.6" cy="214.2" rx="2.42" ry="2.2" fill="#171717"/>
<ellipse cx="438.1" cy="214.2" rx="2.42" ry="2.2" fill="#171717"/>
<ellipse cx="441.7" cy="214.2" rx="2.42" ry="2.2" fill="#171717"/>
<ellipse cx="445.2" cy="214.2" rx="2.42" ry="2.2" fill="#171717"/>
<ellipse cx="448.8" cy="214.2" rx="2.42" ry="2.2" fill="#171717"/>
<ellipse cx="452.3" cy="214.2" rx="2.42" ry="2.2" fill="#171717"/>
<ellipse cx="455.9" cy="214.2" rx="2.42" ry="2.2" fill="#171717"/>
<ellipse cx="459.4" cy="214.2" rx="2.42" ry="2.2" fill="#171717"/>
<ellipse cx="463.0" cy="214.2" rx="2.42" ry="2.2" fill="#171717"/>
<ellipse cx="466.5" cy="214.2" rx="2.42" ry="2.2" fill="#171717"/>
<ellipse cx="470.1" cy="214.2" rx="2.42" ry="2.2" fill="#171717"/>
<ellipse cx="473.6" cy="214.2" rx="2.42" ry="2.2" fill="#171717"/>
<ellipse cx="477.2" cy="214.2" rx="2.42" ry="2.2" fill="#171717"/>
<ellipse cx="480.7" cy="214.2" rx="2.42" ry="2.2" fill="#171717"/>
<ellipse cx="429.3" cy="217.2" rx="2.42" ry="2.2" fill="#171717"/>
<ellipse cx="432.8" cy="217.2" rx="2.42" ry="2.2" fill="#171717"/>
<ellipse cx="436.4" cy="217.2" rx="2.42" ry="2.2" fill="#171717"/>
<ellipse cx="439.9" cy="217.2" rx="2.42" ry="2.2" fill="#171717"/>
<ellipse cx="443.5" cy="217.2" rx="2.42" ry="2.2" fill="#171717"/>
<ellipse cx="447.0" cy="217.2" rx="2.42" ry="2.2" fill="#171717"/>
<ellipse cx="450.6" cy="217.2" rx="2.42" ry="2.2" fill="#171717"/>
<ellipse cx="454.1" cy="217.2" rx="2.42" ry="2.2" fill="#171717"/>
<ellipse cx="457.7" cy="217.2" rx="2.42" ry="2.2" fill="#171717"/>
<ellipse cx="461.2" cy="217.2" rx="2.42" ry="2.2" fill="#171717"/>
<ellipse cx="464.8" cy="217.2" rx="2.42" ry="2.2" fill="#171717"/>
<ellipse cx="468.3" cy="217.2" rx="2.42" ry="2.2" fill="#171717"/>
<ellipse cx="471.9" cy="217.2" rx="2.42" ry="2.2" fill="#171717"/>
<ellipse cx="475.4" cy="217.2" rx="2.42" ry="2.2" fill="#171717"/>
<ellipse cx="479.0" cy="217.2" rx="2.42" ry="2.2" fill="#171717"/>
<ellipse cx="482.5" cy="217.2" rx="2.42" ry="2.2" fill="#171717"/>
<ellipse cx="427.5" cy="220.2" rx="2.42" ry="2.2" fill="#171717"/>
<ellipse cx="431.0" cy="220.2" rx="2.42" ry="2.2" fill="#171717"/>
<ellipse cx="434.6" cy="220.2" rx="2.42" ry="2.2" fill="#171717"/>
<ellipse cx="438.1" cy="220.2" rx="2.42" ry="2.2" fill="#171717"/>
<ellipse cx="441.7" cy="220.2" rx="2.42" ry="2.2" fill="#171717"/>
<ellipse cx="445.2" cy="220.2" rx="2.42" ry="2.2" fill="#171717"/>
<ellipse cx="448.8" cy="220.2" rx="2.42" ry="2.2" fill="#171717"/>
<ellipse cx="452.3" cy="220.2" rx="2.42" ry="2.2" fill="#171717"/>
<ellipse cx="455.9" cy="220.2" rx="2.42" ry="2.2" fill="#171717"/>
<ellipse cx="459.4" cy="220.2" rx="2.42" ry="2.2" fill="#171717"/>
<ellipse cx="463.0" cy="220.2" rx="2.42" ry="2.2" fill="#171717"/>
<ellipse cx="466.5" cy="220.2" rx="2.42" ry="2.2" fill="#171717"/>
<ellipse cx="470.1" cy="220.2" rx="2.42" ry="2.2" fill="#171717"/>
<ellipse cx="473.6" cy="220.2" rx="2.42" ry="2.2" fill="#171717"/>
<ellipse cx="477.2" cy="220.2" rx="2.42" ry="2.2" fill="#171717"/>
<ellipse cx="480.7" cy="220.2" rx="2.42" ry="2.2" fill="#171717"/>
<ellipse cx="429.3" cy="223.2" rx="2.42" ry="2.2" fill="#171717"/>
<ellipse cx="432.8" cy="223.2" rx="2.42" ry="2.2" fill="#171717"/>
<ellipse cx="436.4" cy="223.2" rx="2.42" ry="2.2" fill="#171717"/>
<ellipse cx="439.9" cy="223.2" rx="2.42" ry="2.2" fill="#171717"/>
<ellipse cx="443.5" cy="223.2" rx="2.42" ry="2.2" fill="#171717"/>
<ellipse cx="447.0" cy="223.2" rx="2.42" ry="2.2" fill="#171717"/>
<ellipse cx="450.6" cy="223.2" rx="2.42" ry="2.2" fill="#171717"/>
<ellipse cx="454.1" cy="223.2" rx="2.42" ry="2.2" fill="#171717"/>
<ellipse cx="457.7" cy="223.2" rx="2.42" ry="2.2" fill="#171717"/>
<ellipse cx="461.2" cy="223.2" rx="2.42" ry="2.2" fill="#171717"/>
<ellipse cx="464.8" cy="223.2" rx="2.42" ry="2.2" fill="#171717"/>
<ellipse cx="468.3" cy="223.2" rx="2.42" ry="2.2" fill="#171717"/>
<ellipse cx="471.9" cy="223.2" rx="2.42" ry="2.2" fill="#171717"/>
<ellipse cx="475.4" cy="223.2" rx="2.42" ry="2.2" fill="#171717"/>
<ellipse cx="479.0" cy="223.2" rx="2.42" ry="2.2" fill="#171717"/>
<ellipse cx="482.5" cy="223.2" rx="2.42" ry="2.2" fill="#171717"/>
<ellipse cx="427.5" cy="226.2" rx="2.42" ry="2.2" fill="#171717"/>
<ellipse cx="431.0" cy="226.2" rx="2.42" ry="2.2" fill="#171717"/>
<ellipse cx="434.6" cy="226.2" rx="2.42" ry="2.2" fill="#171717"/>
<ellipse cx="438.1" cy="226.2" rx="2.42" ry="2.2" fill="#171717"/>
<ellipse cx="441.7" cy="226.2" rx="2.42" ry="2.2" fill="#171717"/>
<ellipse cx="445.2" cy="226.2" rx="2.42" ry="2.2" fill="#171717"/>
<ellipse cx="448.8" cy="226.2" rx="2.42" ry="2.2" fill="#171717"/>
<ellipse cx="452.3" cy="226.2" rx="2.42" ry="2.2" fill="#171717"/>
<ellipse cx="455.9" cy="226.2" rx="2.42" ry="2.2" fill="#171717"/>
<ellipse cx="459.4" cy="226.2" rx="2.42" ry="2.2" fill="#171717"/>
<ellipse cx="463.0" cy="226.2" rx="2.42" ry="2.2" fill="#171717"/>
<ellipse cx="466.5" cy="226.2" rx="2.42" ry="2.2" fill="#171717"/>
<ellipse cx="470.1" cy="226.2" rx="2.42" ry="2.2" fill="#171717"/>
<ellipse cx="473.6" cy="226.2" rx="2.42" ry="2.2" fill="#171717"/>
<ellipse cx="477.2" cy="226.2" rx="2.42" ry="2.2" fill="#171717"/>
<ellipse cx="480.7" cy="226.2" rx="2.42" ry="2.2" fill="#171717"/>
<ellipse cx="428.5" cy="229.6" rx="2.42" ry="2.2" fill="#171717"/>
<ellipse cx="432.0" cy="229.6" rx="2.42" ry="2.2" fill="#171717"/>
<ellipse cx="435.6" cy="229.6" rx="2.42" ry="2.2" fill="#171717"/>
<ellipse cx="439.1" cy="229.6" rx="2.42" ry="2.2" fill="#171717"/>
<ellipse cx="442.6" cy="229.6" rx="2.42" ry="2.2" fill="#171717"/>
<ellipse cx="446.2" cy="229.6" rx="2.42" ry="2.2" fill="#171717"/>
<ellipse cx="449.7" cy="229.6" rx="2.42" ry="2.2" fill="#171717"/>
<ellipse cx="453.2" cy="229.6" rx="2.42" ry="2.2" fill="#171717"/>
<ellipse cx="456.8" cy="229.6" rx="2.42" ry="2.2" fill="#171717"/>
<ellipse cx="460.3" cy="229.6" rx="2.42" ry="2.2" fill="#171717"/>
<ellipse cx="463.8" cy="229.6" rx="2.42" ry="2.2" fill="#171717"/>
<ellipse cx="467.4" cy="229.6" rx="2.42" ry="2.2" fill="#171717"/>
<ellipse cx="470.9" cy="229.6" rx="2.42" ry="2.2" fill="#171717"/>
<ellipse cx="474.4" cy="229.6" rx="2.42" ry="2.2" fill="#171717"/>
<ellipse cx="478.0" cy="229.6" rx="2.42" ry="2.2" fill="#171717"/>
<ellipse cx="481.5" cy="229.6" rx="2.42" ry="2.2" fill="#171717"/>
<ellipse cx="437.0" cy="235.6" rx="2.42" ry="2.2" fill="#171717"/>
<ellipse cx="441.5" cy="235.6" rx="2.42" ry="2.2" fill="#171717"/>
<ellipse cx="446.0" cy="235.6" rx="2.42" ry="2.2" fill="#171717"/>
<ellipse cx="450.5" cy="235.6" rx="2.42" ry="2.2" fill="#171717"/>
<ellipse cx="455.0" cy="235.6" rx="2.42" ry="2.2" fill="#171717"/>
<ellipse cx="459.5" cy="235.6" rx="2.42" ry="2.2" fill="#171717"/>
<ellipse cx="464.0" cy="235.6" rx="2.42" ry="2.2" fill="#171717"/>
<ellipse cx="468.5" cy="235.6" rx="2.42" ry="2.2" fill="#171717"/>
<ellipse cx="473.0" cy="235.6" rx="2.42" ry="2.2" fill="#171717"/>
<ellipse cx="430.6" cy="233.3" rx="2.42" ry="2.2" fill="#171717"/>
<ellipse cx="435.5" cy="233.8" rx="2.42" ry="2.2" fill="#171717"/>
<ellipse cx="441.9" cy="233.3" rx="2.42" ry="2.2" fill="#171717"/>
<ellipse cx="446.5" cy="233.5" rx="2.42" ry="2.2" fill="#171717"/>
<ellipse cx="451.0" cy="233.8" rx="2.42" ry="2.2" fill="#171717"/>
<ellipse cx="455.0" cy="234.0" rx="2.42" ry="2.2" fill="#171717"/>
<ellipse cx="459.5" cy="233.5" rx="2.42" ry="2.2" fill="#171717"/>
<ellipse cx="464.0" cy="233.8" rx="2.42" ry="2.2" fill="#171717"/>
<ellipse cx="469.3" cy="233.3" rx="2.42" ry="2.2" fill="#171717"/>
<ellipse cx="474.0" cy="233.8" rx="2.42" ry="2.2" fill="#171717"/>
<ellipse cx="478.8" cy="233.3" rx="2.42" ry="2.2" fill="#171717"/>
<ellipse cx="482.4" cy="226.8" rx="2.42" ry="2.2" fill="#171717"/>
<ellipse cx="480.0" cy="230.3" rx="2.42" ry="2.2" fill="#171717"/>
<ellipse cx="446.7" cy="239.3" rx="2.42" ry="2.2" fill="#171717"/>
<ellipse cx="451.4" cy="237.5" rx="2.42" ry="2.2" fill="#171717"/>
<ellipse cx="456.2" cy="238.7" rx="2.42" ry="2.2" fill="#171717"/>
<ellipse cx="461.0" cy="236.9" rx="2.42" ry="2.2" fill="#171717"/>
<ellipse cx="465.7" cy="238.1" rx="2.42" ry="2.2" fill="#171717"/>
<ellipse cx="449.6" cy="241.1" rx="2.42" ry="2.2" fill="#171717"/>
<ellipse cx="455.0" cy="243.5" rx="2.42" ry="2.2" fill="#171717"/>
<ellipse cx="459.8" cy="241.7" rx="2.42" ry="2.2" fill="#171717"/>
<ellipse cx="446.9" cy="254.7" rx="2.42" ry="2.2" fill="#171717"/>
<ellipse cx="451.6" cy="255.4" rx="2.42" ry="2.2" fill="#171717"/>
<ellipse cx="455.3" cy="254.0" rx="2.42" ry="2.2" fill="#171717"/>
<ellipse cx="460.4" cy="253.0" rx="2.42" ry="2.2" fill="#171717"/>
<ellipse cx="464.4" cy="255.1" rx="2.42" ry="2.2" fill="#171717"/>
<ellipse cx="451.0" cy="261.4" rx="2.42" ry="2.2" fill="#171717"/>
<ellipse cx="455.3" cy="258.7" rx="2.42" ry="2.2" fill="#171717"/>
<ellipse cx="455.3" cy="263.5" rx="2.42" ry="2.2" fill="#171717"/>
<ellipse cx="459.0" cy="260.8" rx="2.42" ry="2.2" fill="#171717"/>
<ellipse cx="457.0" cy="269.5" rx="2.42" ry="2.2" fill="#171717"/>
<ellipse cx="451.0" cy="273.6" rx="2.42" ry="2.2" fill="#171717"/>
<ellipse cx="455.3" cy="272.9" rx="2.42" ry="2.2" fill="#171717"/>
<ellipse cx="459.0" cy="274.2" rx="2.42" ry="2.2" fill="#171717"/>
<ellipse cx="455.3" cy="277.6" rx="2.42" ry="2.2" fill="#171717"/>
<ellipse cx="456.3" cy="281.6" rx="2.42" ry="2.2" fill="#171717"/>
<ellipse cx="451.0" cy="287.0" rx="2.42" ry="2.2" fill="#171717"/>
<ellipse cx="455.3" cy="286.3" rx="2.42" ry="2.2" fill="#171717"/>
<ellipse cx="459.0" cy="287.0" rx="2.42" ry="2.2" fill="#171717"/>
<ellipse cx="462.4" cy="286.6" rx="2.42" ry="2.2" fill="#171717"/>
<ellipse cx="455.3" cy="291.0" rx="2.42" ry="2.2" fill="#171717"/>
<ellipse cx="455.3" cy="296.4" rx="2.42" ry="2.2" fill="#171717"/>
<ellipse cx="459.0" cy="295.8" rx="2.42" ry="2.2" fill="#171717"/>
<ellipse cx="455.3" cy="303.8" rx="2.42" ry="2.2" fill="#171717"/>
<ellipse cx="450.3" cy="308.3" rx="2.42" ry="2.2" fill="#171717"/>
<ellipse cx="454.5" cy="309.0" rx="2.42" ry="2.2" fill="#171717"/>
<ellipse cx="459.0" cy="307.4" rx="2.42" ry="2.2" fill="#171717"/>
<ellipse cx="462.6" cy="308.6" rx="2.42" ry="2.2" fill="#171717"/>
<ellipse cx="455.0" cy="319.7" rx="2.42" ry="2.2" fill="#171717"/>
<ellipse cx="454.7" cy="368.9" rx="2.42" ry="2.2" fill="#171717"/>
<ellipse cx="454.5" cy="416.5" rx="2.42" ry="2.2" fill="#171717"/>
<rect x="78.79" y="217.05" width="41.6" height="5" fill="#f2470f"/>
<rect x="137.96" y="207.54" width="41.6" height="5" fill="#f2470f"/>
<rect x="197.13" y="190.38" width="41.6" height="5" fill="#f2470f"/>
<rect x="256.30" y="225.85" width="41.6" height="5" fill="#f2470f"/>
<rect x="315.47" y="232.79" width="41.6" height="5" fill="#f2470f"/>
<rect x="374.64" y="200.46" width="41.6" height="5" fill="#f2470f"/>
<rect x="433.81" y="213.78" width="41.6" height="5" fill="#f2470f"/>
<text x="0" y="22.4" font-family="Liberation Sans, sans-serif" font-weight="bold" font-size="26.3" fill="#000">A.</text>
<text x="1.1" y="562.9" font-family="Liberation Sans, sans-serif" font-weight="bold" font-size="26.3" fill="#000">B.</text>
<text transform="translate(274.4,573.5) scale(0.97,1)" text-anchor="middle" font-family="Liberation Sans, sans-serif" font-weight="bold" font-size="27" fill="#000">SNVs</text>
<rect x="65.8" y="583.8" width="423.0" height="378.20000000000005" fill="none" stroke="#3a3a3a" stroke-width="1.1"/>
<line x1="81.30" x2="81.30" y1="962.0" y2="970.5" stroke="#3a3a3a" stroke-width="1.1"/>
<text x="81.30" y="989" text-anchor="middle" font-family="Liberation Sans, sans-serif" font-size="12" fill="#222">0</text>
<line x1="58.3" x2="65.8" y1="948.50" y2="948.50" stroke="#3a3a3a" stroke-width="1.1"/>
<text transform="translate(48.8,948.50) rotate(-90)" text-anchor="middle" font-family="Liberation Sans, sans-serif" font-size="12" fill="#222">0</text>
<line x1="136.89" x2="136.89" y1="962.0" y2="970.5" stroke="#3a3a3a" stroke-width="1.1"/>
<text x="136.89" y="989" text-anchor="middle" font-family="Liberation Sans, sans-serif" font-size="12" fill="#222">10</text>
<line x1="58.3" x2="65.8" y1="898.77" y2="898.77" stroke="#3a3a3a" stroke-width="1.1"/>
<text transform="translate(48.8,898.77) rotate(-90)" text-anchor="middle" font-family="Liberation Sans, sans-serif" font-size="12" fill="#222">10</text>
<line x1="192.48" x2="192.48" y1="962.0" y2="970.5" stroke="#3a3a3a" stroke-width="1.1"/>
<text x="192.48" y="989" text-anchor="middle" font-family="Liberation Sans, sans-serif" font-size="12" fill="#222">20</text>
<line x1="58.3" x2="65.8" y1="849.04" y2="849.04" stroke="#3a3a3a" stroke-width="1.1"/>
<text transform="translate(48.8,849.04) rotate(-90)" text-anchor="middle" font-family="Liberation Sans, sans-serif" font-size="12" fill="#222">20</text>
<line x1="248.07" x2="248.07" y1="962.0" y2="970.5" stroke="#3a3a3a" stroke-width="1.1"/>
<text x="248.07" y="989" text-anchor="middle" font-family="Liberation Sans, sans-serif" font-size="12" fill="#222">30</text>
<line x1="58.3" x2="65.8" y1="799.31" y2="799.31" stroke="#3a3a3a" stroke-width="1.1"/>
<text transform="translate(48.8,799.31) rotate(-90)" text-anchor="middle" font-family="Liberation Sans, sans-serif" font-size="12" fill="#222">30</text>
<line x1="303.66" x2="303.66" y1="962.0" y2="970.5" stroke="#3a3a3a" stroke-width="1.1"/>
<text x="303.66" y="989" text-anchor="middle" font-family="Liberation Sans, sans-serif" font-size="12" fill="#222">40</text>
<line x1="58.3" x2="65.8" y1="749.58" y2="749.58" stroke="#3a3a3a" stroke-width="1.1"/>
<text transform="translate(48.8,749.58) rotate(-90)" text-anchor="middle" font-family="Liberation Sans, sans-serif" font-size="12" fill="#222">40</text>
<line x1="359.25" x2="359.25" y1="962.0" y2="970.5" stroke="#3a3a3a" stroke-width="1.1"/>
<text x="359.25" y="989" text-anchor="middle" font-family="Liberation Sans, sans-serif" font-size="12" fill="#222">50</text>
<line x1="58.3" x2="65.8" y1="699.85" y2="699.85" stroke="#3a3a3a" stroke-width="1.1"/>
<text transform="translate(48.8,699.85) rotate(-90)" text-anchor="middle" font-family="Liberation Sans, sans-serif" font-size="12" fill="#222">50</text>
<line x1="414.84" x2="414.84" y1="962.0" y2="970.5" stroke="#3a3a3a" stroke-width="1.1"/>
<text x="414.84" y="989" text-anchor="middle" font-family="Liberation Sans, sans-serif" font-size="12" fill="#222">60</text>
<line x1="58.3" x2="65.8" y1="650.12" y2="650.12" stroke="#3a3a3a" stroke-width="1.1"/>
<text transform="translate(48.8,650.12) rotate(-90)" text-anchor="middle" font-family="Liberation Sans, sans-serif" font-size="12" fill="#222">60</text>
<line x1="470.43" x2="470.43" y1="962.0" y2="970.5" stroke="#3a3a3a" stroke-width="1.1"/>
<text x="470.43" y="989" text-anchor="middle" font-family="Liberation Sans, sans-serif" font-size="12" fill="#222">70</text>
<line x1="58.3" x2="65.8" y1="600.39" y2="600.39" stroke="#3a3a3a" stroke-width="1.1"/>
<text transform="translate(48.8,600.39) rotate(-90)" text-anchor="middle" font-family="Liberation Sans, sans-serif" font-size="12" fill="#222">70</text>
<text transform="translate(224.5,1015.5)" font-family="Liberation Sans, sans-serif" font-size="12.3" fill="#222"><tspan x="0">Expected</tspan><tspan x="52.8" font-size="8.2" font-weight="bold" dy="-0.7">–</tspan><tspan x="61.8" dy="0.7">log</tspan><tspan x="76.4" font-size="8.6" dy="2.8">10</tspan><tspan x="86.3" dy="-2.8" font-size="15.5">(</tspan><tspan x="91.3" font-style="italic">P</tspan><tspan x="101.8" font-size="15.5">)</tspan></text>
<text transform="translate(14.9,827.3) rotate(-90)" font-family="Liberation Sans, sans-serif" font-size="12.3" fill="#222"><tspan x="0">Observed</tspan><tspan x="54.8" font-size="8.2" font-weight="bold" dy="-0.7">–</tspan><tspan x="63.8" dy="0.7">log</tspan><tspan x="78.4" font-size="8.6" dy="2.8">10</tspan><tspan x="88.3" dy="-2.8" font-size="15.5">(</tspan><tspan x="93.3" font-style="italic">P</tspan><tspan x="103.8" font-size="15.5">)</tspan></text>
<line x1="81.30" y1="948.50" x2="473.21" y2="597.90" stroke="#2e2e2e" stroke-width="1.05"/>
<line x1="81.30" y1="948.50" x2="455.31" y2="583.80" stroke="#fef4f5" stroke-width="3.0"/>
<line x1="81.30" y1="948.50" x2="455.31" y2="583.80" stroke="#cc4a5a" stroke-width="1.15" stroke-dasharray="2.6 3.4"/>
<polyline points="79.8,949.2 86.3,943.9 91.2,939.5 93.4,936.2 94.8,931.5 96.0,925" fill="none" stroke="#000" stroke-width="4.0" stroke-linejoin="round" stroke-linecap="round"/>
<polyline points="95.9,927.5 96.4,924.2 97.6,918 99.0,910 100.5,900 101.5,890 102.3,880 102.9,870 103.4,860 104.0,850 104.5,840 104.8,834.5" fill="none" stroke="#000" stroke-width="5.5" stroke-linejoin="round" stroke-linecap="round"/>
<polyline points="105.1,828 105.6,820 106.2,809" fill="none" stroke="#000" stroke-width="5.4"/>
<path d="M104.8,831.5 L107.8,834.5 L104.8,837.5 L101.8,834.5Z" fill="#000"/>
<path d="M106.2,805.5 L109.2,808.5 L106.2,811.5 L103.2,808.5Z" fill="#000"/>
<path d="M105.1,826.0 L108.1,829.0 L105.1,832.0 L102.1,829.0Z" fill="#000"/>
<path d="M106.4,797.4 L109.4,800.4 L106.4,803.4 L103.4,800.4Z" fill="#000"/>
<path d="M107.3,791.2 L110.3,794.2 L107.3,797.2 L104.3,794.2Z" fill="#000"/>
<path d="M107.3,787.7 L110.3,790.7 L107.3,793.7 L104.3,790.7Z" fill="#000"/>
<path d="M107.3,779.1 L110.3,782.1 L107.3,785.1 L104.3,782.1Z" fill="#000"/>
<path d="M107.3,757.8 L110.3,760.8 L107.3,763.8 L104.3,760.8Z" fill="#000"/>
<path d="M107.4,753.3 L110.4,756.3 L107.4,759.3 L104.4,756.3Z" fill="#000"/>
<path d="M107.3,749.0 L110.3,752.0 L107.3,755.0 L104.3,752.0Z" fill="#000"/>
<path d="M107.6,745.0 L110.6,748.0 L107.6,751.0 L104.6,748.0Z" fill="#000"/>
<path d="M108.0,741.5 L111.0,744.5 L108.0,747.5 L105.0,744.5Z" fill="#000"/>
<path d="M108.4,738.0 L111.4,741.0 L108.4,744.0 L105.4,741.0Z" fill="#000"/>
<path d="M108.7,735.0 L111.7,738.0 L108.7,741.0 L105.7,738.0Z" fill="#000"/>
<path d="M109.0,732.2 L112.0,735.2 L109.0,738.2 L106.0,735.2Z" fill="#000"/>
<path d="M109.0,686.5 L112.0,689.5 L109.0,692.5 L106.0,689.5Z" fill="#000"/>
<path d="M109.3,627.3 L112.3,630.3 L109.3,633.3 L106.3,630.3Z" fill="#000"/>
<path d="M109.3,624.1 L112.3,627.1 L109.3,630.1 L106.3,627.1Z" fill="#000"/>
<path d="M109.3,614.0 L112.3,617.0 L109.3,620.0 L106.3,617.0Z" fill="#000"/>
<path d="M109.6,611.4 L112.6,614.4 L109.6,617.4 L106.6,614.4Z" fill="#000"/>
<path d="M110.4,608.2 L113.4,611.2 L110.4,614.2 L107.4,611.2Z" fill="#000"/>
<path d="M111.4,605.0 L114.4,608.0 L111.4,611.0 L108.4,608.0Z" fill="#000"/>
<path d="M113.0,601.8 L116.0,604.8 L113.0,607.8 L110.0,604.8Z" fill="#000"/>
<path d="M114.5,599.2 L117.5,602.2 L114.5,605.2 L111.5,602.2Z" fill="#000"/>
<path d="M116.0,597.2 L119.0,600.2 L116.0,603.2 L113.0,600.2Z" fill="#000"/>
<text x="412.5" y="945.5" font-family="Liberation Sans, sans-serif" font-size="12.2" fill="#d92a36">alpha =7.14</text>
<text x="412.5" y="959.8" font-family="Liberation Sans, sans-serif" font-size="12.2" fill="#d92a36">lambda=1.09</text>
</svg>
</body></html>
